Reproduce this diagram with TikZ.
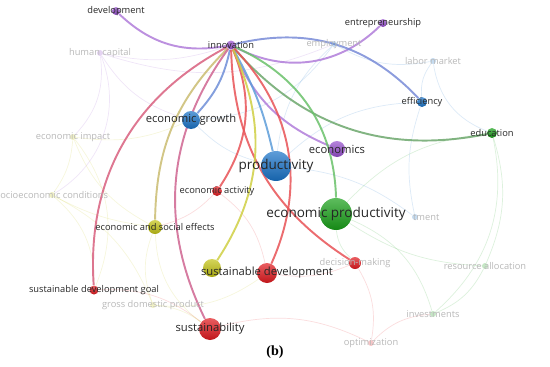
\documentclass[tikz,border=0pt]{standalone}
\usepackage{fontspec}
\usepackage{xcolor}
\setmainfont{Open Sans}
\newfontfamily\capfont{Liberation Serif}
\usetikzlibrary{positioning, backgrounds}
\definecolor{vosPurple}{RGB}{150,80,205}
\definecolor{vosBlue}{RGB}{25,115,200}
\definecolor{vosGreen}{RGB}{25,160,25}
\definecolor{vosRed}{RGB}{225,25,30}
\definecolor{vosYellow}{RGB}{195,195,20}

\begin{document}
\begin{tikzpicture}[
  x=0.02cm, y=0.02cm,
  kw/.style={circle, inner sep=0pt, top color=#1!70!white, bottom color=#1!85!black},
  fkw/.style={circle, inner sep=0pt, minimum size=1.2mm, fill=#1, fill opacity=0.25},
  lbl/.style={font=\fontsize{5.3}{6}\selectfont, text=black!85, inner sep=0pt},
  lblm/.style={font=\fontsize{6.4}{7}\selectfont, text=black!85, inner sep=0pt},
  lblb/.style={font=\fontsize{7.7}{8}\selectfont, text=black!85, inner sep=0pt},
  lblf/.style={font=\fontsize{5.3}{6}\selectfont, text=black!28, inner sep=0pt},
  link/.style={line width=1.1pt, opacity=0.85},
  faint/.style={line width=0.4pt, opacity=0.15},
]
  \useasboundingbox (0,0) rectangle (550,366);
  \clip (0,0) rectangle (550,366);

  % faint keywords
  \node[fkw=vosPurple, label={[lblf]center:human capital}] (humancap) at (100,313) {};
  \node[fkw=vosBlue, label={[lblf]center:employment}] (employment) at (334,322) {};
  \node[fkw=vosBlue, label={[lblf]center:labor market}] (labormarket) at (433,305) {};
  \node[fkw=vosYellow, label={[lblf]center:economic impact}] (econimpact) at (73,229) {};
  \node[fkw=vosYellow, label={[lblf]center:socioeconomic conditions}] (socioecon) at (52,171) {};
  \node[fkw=vosBlue] (investment) at (415,149) {};
  \begin{scope}
    \clip (413,140) rectangle (460,158);
    \node[lblf] (investment-t) at (investment) {investment};
  \end{scope}
  \node[fkw=vosGreen, label={[lblf]center:resource allocation}] (resalloc) at (485,100) {};
  \node[fkw=vosYellow, label={[lblf]center:gross domestic product}] (gdp) at (153,61) {};
  \node[fkw=vosGreen, label={[lblf]center:investments}] (investments) at (433,52) {};
  \node[fkw=vosRed, label={[lblf]center:optimization}] (optimization) at (371,23) {};

  % main keywords
  \node[kw=vosPurple, minimum size=1.6mm, label={[lbl]center:development}] (development) at (116,355) {};
  \node[kw=vosPurple, minimum size=1.6mm, label={[lbl]center:entrepreneurship}] (entrepreneurship) at (383,343) {};
  \node[kw=vosPurple, minimum size=1.8mm, label={[lbl]center:innovation}] (innovation) at (231,321) {};
  \node[kw=vosBlue, minimum size=2mm, label={[lbl]center:efficiency}] (efficiency) at (422,264) {};
  \node[kw=vosGreen, minimum size=2mm, label={[lbl]center:education}] (education) at (492,233) {};
  \node[kw=vosPurple, minimum size=3.2mm, label={[lblm]center:economics}] (economics) at (337,217) {};
  \node[kw=vosBlue, minimum size=3.6mm, label={[lblm]center:economic growth}] (econgrowth) at (191,246) {};
  \node[kw=vosRed, minimum size=2mm, label={[lbl]center:economic activity}] (econactivity) at (217,175) {};
  \node[kw=vosBlue, minimum size=6mm, label={[lblb]center:productivity}] (productivity) at (276,200) {};
  \node[kw=vosYellow, minimum size=2.8mm, label={[lbl]center:economic and social effects}] (ecosocial) at (155,139) {};
  \node[kw=vosGreen, minimum size=6.4mm, label={[lblb]center:economic productivity}] (econprod) at (336,152) {};
  \node[kw=vosRed, minimum size=2.4mm, label={[lblf]center:decision-making}] (decision) at (355,103) {};
  \node[kw=vosYellow, minimum size=3.6mm] (sdyellow) at (212,98) {};
  \node[kw=vosRed, minimum size=4mm, label={[lblm]center:sustainable development}] (sustdev) at (267,93) {};
  \node[kw=vosRed, minimum size=1.8mm, label={[lbl]center:sustainable development goal}] (sdg) at (94,76) {};
  \node[kw=vosRed, minimum size=4.4mm, label={[lblm]center:sustainability}] (sustainability) at (210,37) {};

  \node[font=\capfont\bfseries\fontsize{8}{9}\selectfont] (caption) at (275,14) {(b)};

  \begin{scope}[on background layer]
    % background links
    \foreach \a/\b/\c/\bend in {humancap/econgrowth/vosPurple/-20, humancap/econimpact/vosPurple/25,
      humancap/innovation/vosPurple/-15, humancap/employment/vosPurple/-20, humancap/socioecon/vosPurple/40,
      econimpact/socioecon/vosYellow/15, econimpact/ecosocial/vosYellow/-20, econimpact/econgrowth/vosYellow/-15,
      econimpact/sdg/vosYellow/30, socioecon/gdp/vosYellow/20, socioecon/ecosocial/vosYellow/-10,
      socioecon/sdg/vosYellow/25, gdp/sustainability/vosYellow/15, gdp/sustdev/vosYellow/-20,
      gdp/ecosocial/vosYellow/20, ecosocial/sustainability/vosYellow/-25, sdg/sustainability/vosRed/20,
      sustdev/decision/vosRed/-15, decision/optimization/vosRed/20, optimization/sustainability/vosRed/-20,
      optimization/investments/vosRed/20, econactivity/sustdev/vosRed/20, econactivity/ecosocial/vosRed/15,
      investments/resalloc/vosGreen/-20, investments/econprod/vosGreen/-25, resalloc/econprod/vosGreen/15,
      resalloc/education/vosGreen/-20, education/investments/vosGreen/30, econprod/decision/vosGreen/-20,
      econprod/education/vosGreen/20, investment/efficiency/vosBlue/15, investment/productivity/vosBlue/-15,
      labormarket/efficiency/vosBlue/-20, labormarket/employment/vosBlue/20, labormarket/education/vosBlue/-30,
      employment/econgrowth/vosBlue/25, employment/productivity/vosBlue/-20, efficiency/productivity/vosBlue/-20,
      econgrowth/productivity/vosBlue/-15}
      \draw[faint, draw=\c] (\a) to[bend left=\bend] (\b);

    % links of innovation
    \draw[link, draw=vosPurple!75!white] (innovation) to[bend left=27] (development);
    \draw[link, draw=vosPurple!75!white] (innovation) to[bend right=36] (entrepreneurship);
    \draw[link, draw=vosBlue!60!vosPurple!75!white] (innovation) to[bend left=30] (efficiency);
    \draw[link, draw=vosBlue!70!vosPurple!75!white] (innovation) to[bend left=15] (econgrowth);
    \draw[link, draw=vosPurple!75!white] (innovation) to[bend right=22] (economics);
    \draw[link, draw=vosGreen!55!gray!80!white] (innovation) to[bend right=30] (education);
    \draw[link, draw=vosGreen!65!white] (innovation) to[bend left=32] (econprod);
    \draw[link, draw=vosBlue!70!white] (innovation) to[bend left=8] (productivity);
    \draw[link, draw=vosRed!70!vosPurple!75!white] (innovation) to[bend right=33] (sdg);
    \draw[link, draw=vosYellow!75!vosPurple!75!white] (innovation) to[bend right=22] (ecosocial);
    \draw[link, draw=vosRed!75!white] (innovation) to[bend left=28] (econactivity);
    \draw[link, draw=vosRed!55!vosPurple!75!white] (innovation) to[bend right=31] (sustainability);
    \draw[link, draw=vosRed!75!white] (innovation) to[bend left=34] (sustdev);
    \draw[link, draw=vosRed!75!white] (innovation) to[bend right=28] (decision);
    \draw[link, draw=vosYellow!80!white] (innovation) to[bend left=29] (sdyellow);
  \end{scope}
\end{tikzpicture}
\end{document}
